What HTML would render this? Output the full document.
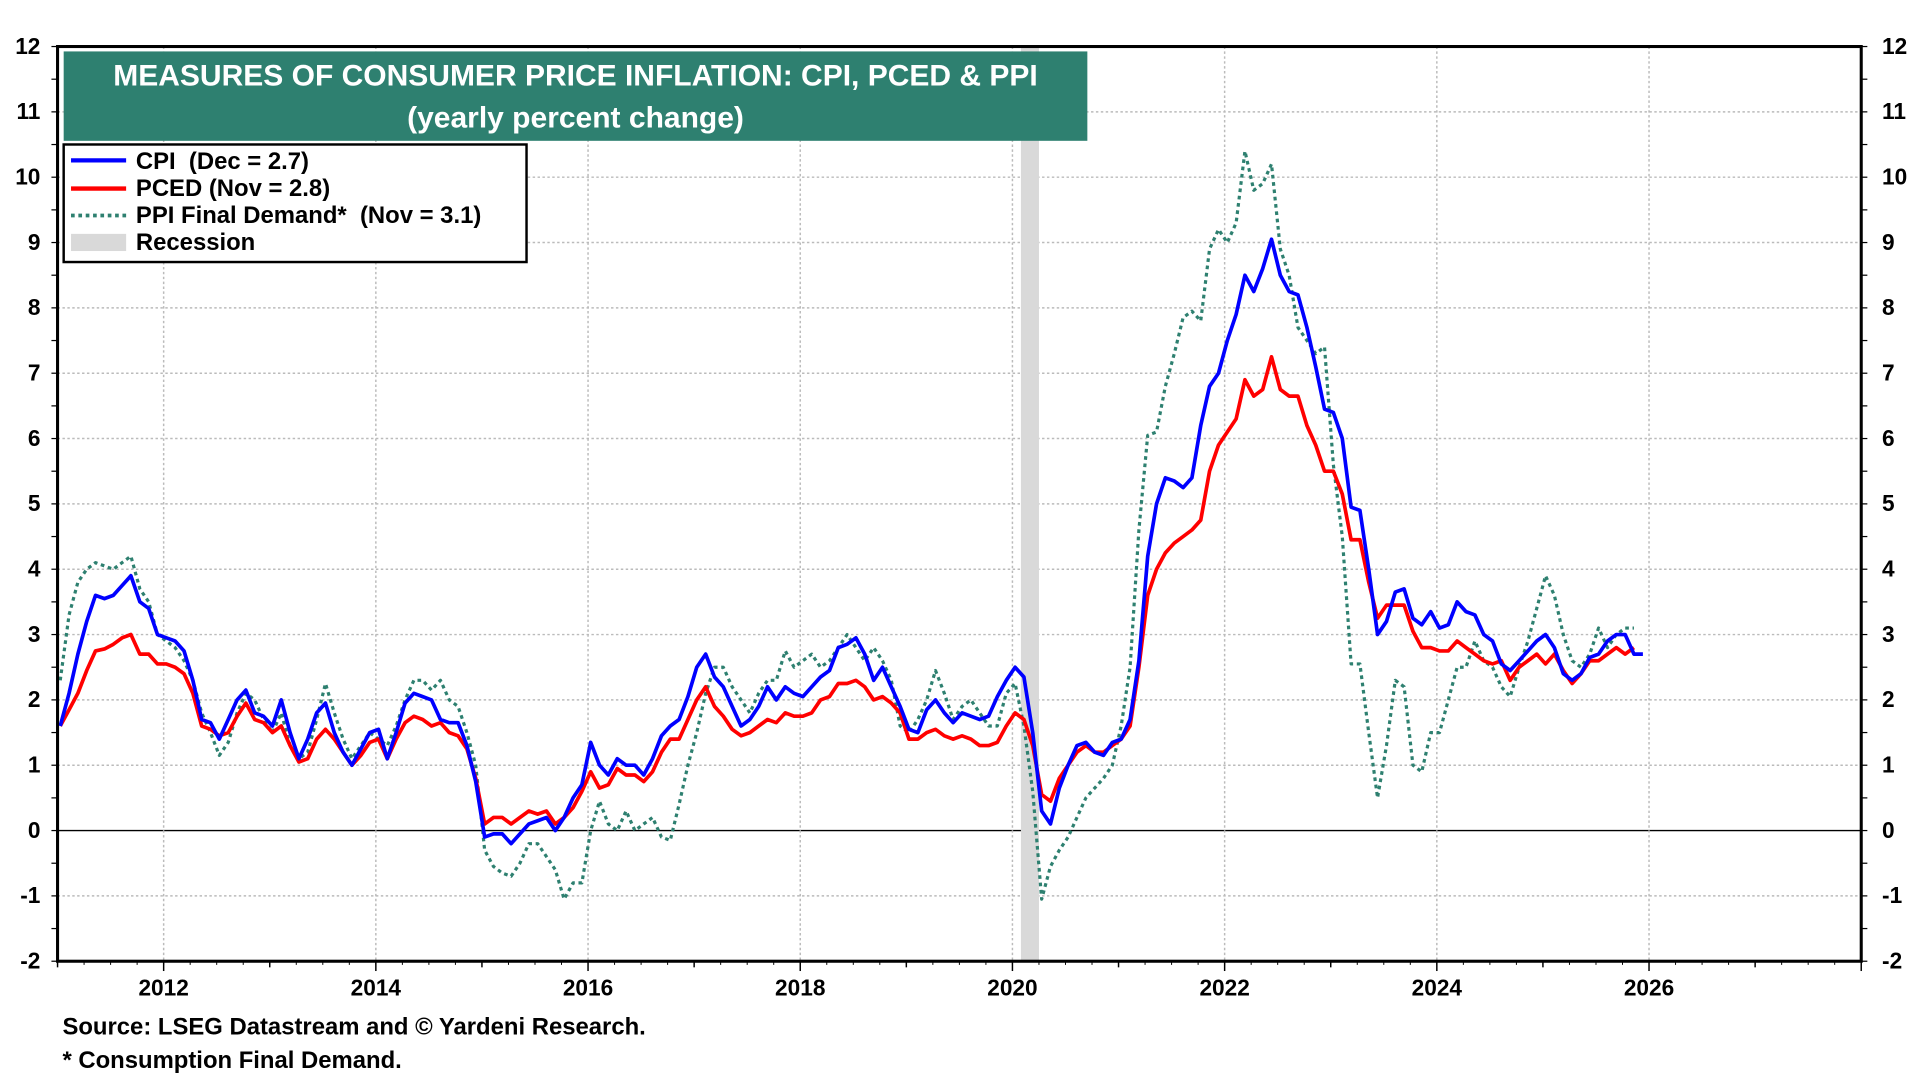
<!DOCTYPE html>
<html><head><meta charset="utf-8"><style>
html,body{margin:0;padding:0;background:#fff;}
svg{display:block;font-family:"Liberation Sans",Arial,sans-serif;font-weight:bold;}
text{white-space:pre;}
</style></head><body>
<svg id="chart" width="1920" height="1080" viewBox="0 0 1568 882" preserveAspectRatio="none" xmlns="http://www.w3.org/2000/svg">
<g id="grid"></g>
<g id="recess"></g>
<g id="series"></g>
<g id="axes"></g>
<g>
<rect x="52" y="42" width="836" height="73" fill="#2e8070"/>
<text x="470" y="70" fill="#fff" font-size="24.5" text-anchor="middle">MEASURES OF CONSUMER PRICE INFLATION: CPI, PCED &amp; PPI</text>
<text x="470" y="104" fill="#fff" font-size="24.5" text-anchor="middle">(yearly percent change)</text>
</g>
<g>
<rect x="52" y="118" width="378" height="96" fill="#fff" stroke="#000" stroke-width="2"/>
<g><line x1="58" y1="131" x2="103" y2="131" stroke="#0000ff" stroke-width="3.5"/><text x="111" y="138" font-size="19.5">CPI  (Dec = 2.7)</text></g>
<g><line x1="58" y1="154" x2="103" y2="154" stroke="#ff0000" stroke-width="3.5"/><text x="111" y="160" font-size="19.5">PCED (Nov = 2.8)</text></g>
<g><line x1="58" y1="176" x2="103" y2="176" stroke="#2e8070" stroke-width="3" stroke-dasharray="3,3"/><text x="111" y="182" font-size="19.5">PPI Final Demand*  (Nov = 3.1)</text></g>
<g><rect x="58" y="191" width="45" height="14" fill="#d9d9d9"/><text x="111" y="204" font-size="19.5">Recession</text></g>
</g>
<text x="51" y="845" font-size="19.5">Source: LSEG Datastream and © Yardeni Research.</text>
<text x="51" y="872" font-size="19.5">* Consumption Final Demand.</text>
</svg>
<script>
const yTicks=[-2,-1,0,1,2,3,4,5,6,7,8,9,10,11,12];
const xTickYears=[2012,2014,2016,2018,2020,2022,2024,2026];
const recessions=[[2020.08,2020.25]];
const startYear=2011;
const cpi=[1.6,2.1,2.7,3.2,3.6,3.55,3.6,3.75,3.9,3.5,3.4,3.0,
2.95,2.9,2.75,2.3,1.7,1.65,1.4,1.7,2.0,2.15,1.8,1.75,
1.6,2.0,1.5,1.1,1.4,1.8,1.95,1.5,1.2,1.0,1.25,1.5,
1.55,1.1,1.5,1.95,2.1,2.05,2.0,1.7,1.65,1.65,1.3,0.75,
-0.1,-0.05,-0.05,-0.2,-0.05,0.1,0.15,0.2,0.0,0.2,0.5,0.7,
1.35,1.0,0.85,1.1,1.0,1.0,0.85,1.1,1.45,1.6,1.7,2.05,
2.5,2.7,2.35,2.2,1.9,1.6,1.7,1.9,2.2,2.0,2.2,2.1,
2.05,2.2,2.35,2.45,2.8,2.85,2.95,2.7,2.3,2.5,2.2,1.9,
1.55,1.5,1.85,2.0,1.8,1.65,1.8,1.75,1.7,1.75,2.05,2.3,
2.5,2.35,1.5,0.3,0.1,0.65,1.0,1.3,1.35,1.2,1.15,1.35,
1.4,1.7,2.6,4.2,5.0,5.4,5.35,5.25,5.4,6.2,6.8,7.0,
7.5,7.9,8.5,8.25,8.6,9.05,8.5,8.25,8.2,7.7,7.1,6.45,
6.4,6.0,4.95,4.9,4.0,3.0,3.2,3.65,3.7,3.25,3.15,3.35,
3.1,3.15,3.5,3.35,3.3,3.0,2.9,2.55,2.45,2.6,2.75,2.9,
3.0,2.8,2.4,2.3,2.4,2.65,2.7,2.9,3.0,3.0,2.7,2.7];
const pced=[1.6,1.85,2.1,2.45,2.75,2.78,2.85,2.95,3.0,2.7,2.7,2.55,
2.55,2.5,2.4,2.1,1.6,1.55,1.45,1.5,1.75,1.95,1.7,1.65,
1.5,1.6,1.3,1.05,1.1,1.4,1.55,1.4,1.2,1.0,1.15,1.35,
1.4,1.1,1.4,1.65,1.75,1.7,1.6,1.65,1.5,1.45,1.25,0.8,
0.1,0.2,0.2,0.1,0.2,0.3,0.25,0.3,0.1,0.2,0.35,0.6,
0.9,0.65,0.7,0.95,0.85,0.85,0.75,0.9,1.2,1.4,1.4,1.7,
2.0,2.2,1.9,1.75,1.55,1.45,1.5,1.6,1.7,1.65,1.8,1.75,
1.75,1.8,2.0,2.05,2.25,2.25,2.3,2.2,2.0,2.05,1.95,1.8,
1.4,1.4,1.5,1.55,1.45,1.4,1.45,1.4,1.3,1.3,1.35,1.6,
1.8,1.7,1.3,0.55,0.45,0.8,1.0,1.2,1.3,1.2,1.2,1.3,
1.4,1.6,2.5,3.6,4.0,4.25,4.4,4.5,4.6,4.75,5.5,5.9,
6.1,6.3,6.9,6.65,6.75,7.25,6.75,6.65,6.65,6.2,5.9,5.5,
5.5,5.15,4.45,4.45,3.8,3.25,3.45,3.45,3.45,3.05,2.8,2.8,
2.75,2.75,2.9,2.8,2.7,2.6,2.55,2.6,2.3,2.5,2.6,2.7,
2.55,2.7,2.45,2.25,2.4,2.6,2.6,2.7,2.8,2.7,2.8];
const ppi=[2.3,3.3,3.8,4.0,4.1,4.05,4.0,4.1,4.2,3.7,3.5,3.0,
2.9,2.8,2.6,2.3,1.8,1.5,1.15,1.35,1.8,2.1,2.0,1.7,
1.5,1.8,1.3,1.1,1.2,1.7,2.25,1.8,1.4,1.1,1.3,1.5,
1.4,1.3,1.6,2.0,2.3,2.3,2.15,2.3,2.0,1.9,1.5,1.0,
-0.3,-0.55,-0.65,-0.7,-0.5,-0.2,-0.2,-0.4,-0.6,-1.05,-0.8,-0.8,
0.0,0.45,0.1,0.0,0.3,0.0,0.1,0.2,-0.1,-0.15,0.4,1.0,
1.5,2.1,2.5,2.5,2.2,2.0,1.8,2.1,2.3,2.3,2.75,2.5,
2.6,2.7,2.5,2.6,2.8,3.0,2.8,2.6,2.8,2.6,2.3,1.6,
1.5,1.7,2.0,2.45,2.1,1.7,1.9,2.0,1.8,1.6,1.6,2.1,
2.25,1.6,0.6,-1.05,-0.55,-0.3,-0.1,0.2,0.5,0.65,0.8,1.0,
1.6,2.5,4.6,6.05,6.1,6.8,7.3,7.85,7.95,7.8,8.9,9.2,
9.0,9.3,10.4,9.8,9.9,10.2,8.9,8.5,7.7,7.5,7.3,7.4,
5.6,4.5,2.55,2.55,1.5,0.5,1.3,2.3,2.2,1.0,0.9,1.5,
1.5,2.0,2.5,2.5,2.9,2.6,2.5,2.2,2.05,2.5,2.9,3.4,
3.9,3.6,3.0,2.6,2.5,2.7,3.1,2.8,3.0,3.1,3.1];

const L=47,R=1520,T=38,B=785,X0=2011,X1=2028,YMIN=-2,YMAX=12;
const xs=v=>L+(v-X0)/(X1-X0)*(R-L);
const ys=v=>T+(YMAX-v)/(YMAX-YMIN)*(B-T);
const NS="http://www.w3.org/2000/svg";
function mk(tag,attrs,parent){const e=document.createElementNS(NS,tag);for(const k in attrs)e.setAttribute(k,attrs[k]);parent.appendChild(e);return e;}
const grid=document.getElementById('grid'),axes=document.getElementById('axes'),series=document.getElementById('series'),recess=document.getElementById('recess');
yTicks.forEach(v=>{
  const g=mk('line',{x1:L,x2:R,y1:ys(v),y2:ys(v),stroke:v===0?'#000':'#bbb','stroke-width':1.2,'stroke-dasharray':v===0?'none':'2,2'},grid);
  
  
  const t1=mk('text',{x:33,y:ys(v)+6,'font-size':18.5,'text-anchor':'end'},axes);t1.textContent=v;
  
  
  const t2=mk('text',{x:1537,y:ys(v)+6,'font-size':18.5,'text-anchor':'start'},axes);t2.textContent=v;
  
  
});
for(let v=YMIN;v<=YMAX;v+=0.5){mk('line',{x1:L-5,x2:L,y1:ys(v),y2:ys(v),stroke:'#000','stroke-width':1},axes);mk('line',{x1:R,x2:R+5,y1:ys(v),y2:ys(v),stroke:'#000','stroke-width':1},axes);}
xTickYears.forEach(yr=>{
  const g=mk('line',{x1:xs(yr),x2:xs(yr),y1:T,y2:B,stroke:'#bbb','stroke-width':1.2,'stroke-dasharray':'2,2'},grid);
  
  
  const t=mk('text',{x:xs(yr),y:813,'font-size':18.5,'text-anchor':'middle'},axes);t.textContent=yr;
  
  
});
for(let yr=X0;yr<=X1;yr++){mk('line',{x1:xs(yr),x2:xs(yr),y1:B,y2:B+(yr%2===0?8:5),stroke:'#000','stroke-width':1.2},axes);}
for(let m=X0*12;m<=X1*12;m+=3){mk('line',{x1:xs(m/12),x2:xs(m/12),y1:B,y2:B+3,stroke:'#000','stroke-width':0.8},axes);}
recessions.forEach(r=>{
  const e=mk('rect',{x:xs(r[0]),y:T,width:xs(r[1])-xs(r[0]),height:B-T,fill:'#d9d9d9'},recess);
  
  
});
mk('rect',{x:L,y:T,width:R-L,height:B-T,fill:'none',stroke:'#000','stroke-width':2.5},axes);
function path(arr,color,w,dash,name){
  const d=arr.map((v,i)=>(i?'L':'M')+xs(startYear+(i+0.3)/12).toFixed(1)+','+ys(v).toFixed(1)).join('');
  const p=mk('path',{d:d,fill:'none',stroke:color,'stroke-width':w,'stroke-linejoin':'round'},series);
  if(dash)p.setAttribute('stroke-dasharray',dash);
  
  
}
path(ppi,'#2e8070',2.6,'3,3','ppi-line');
path(pced,'#ff0000',3,null,'pced-line');
path(cpi,'#0000ff',3,null,'cpi-line');
</script>
</body></html>
